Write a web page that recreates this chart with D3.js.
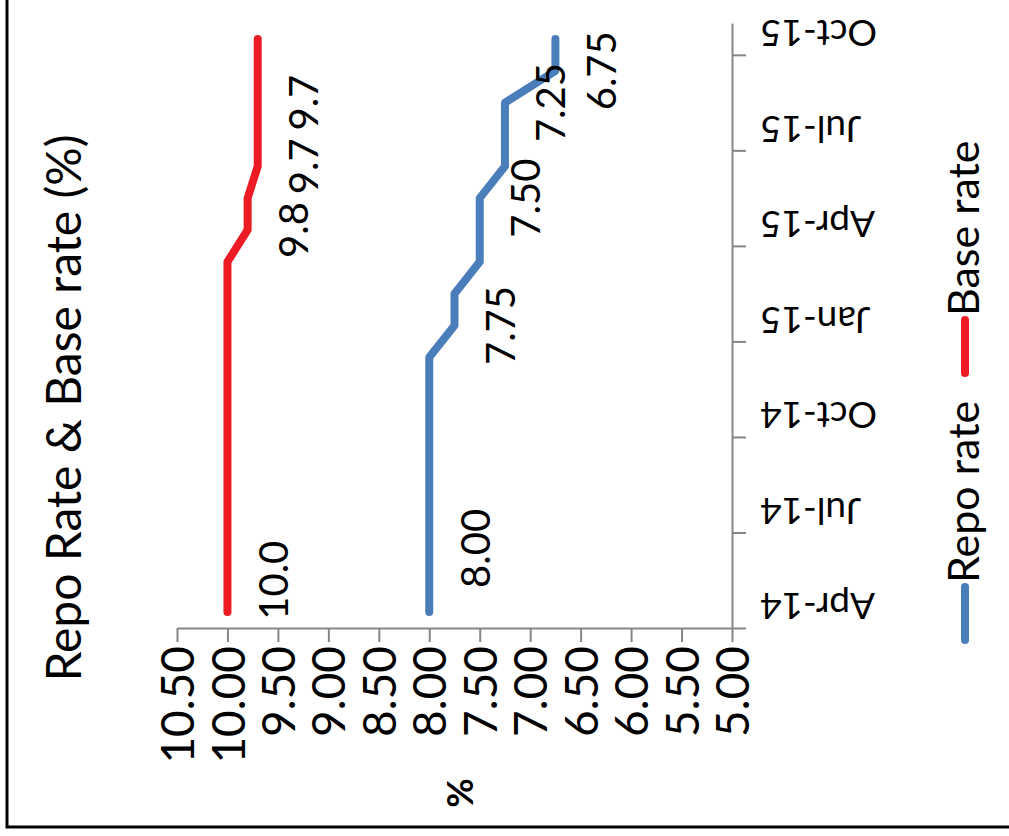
<!DOCTYPE html>
<html>
<head>
<meta charset="utf-8">
<script src="https://cdn.jsdelivr.net/npm/d3@7"></script>
<style>
  html, body { margin: 0; padding: 0; background: #fff; }
  svg { display: block; }
  text { font-family: "Lato", "Liberation Sans", sans-serif; fill: #000; }
</style>
</head>
<body>
<script>
// ---------- data ----------
const months = ["Apr-14","May-14","Jun-14","Jul-14","Aug-14","Sep-14","Oct-14","Nov-14","Dec-14",
                "Jan-15","Feb-15","Mar-15","Apr-15","May-15","Jun-15","Jul-15","Aug-15","Sep-15","Oct-15"];
const repoRate = [8.00,8.00,8.00,8.00,8.00,8.00,8.00,8.00,8.00,7.75,7.75,7.50,7.50,7.50,7.25,7.25,7.25,6.75,6.75];
const baseRate = [10.0,10.0,10.0,10.0,10.0,10.0,10.0,10.0,10.0,10.0,10.0,10.0,9.8,9.8,9.7,9.7,9.7,9.7,9.7];
const categoryTickIdx = [0,3,6,9,12,15,18];
const categoryTickLabels = ["Apr-14","Jul-14","Oct-14","Jan-15","Apr-15","Jul-15","Oct-15"];
const valueTicks = [10.5,10.0,9.5,9.0,8.5,8.0,7.5,7.0,6.5,6.0,5.5,5.0];
const repoLabelIdx = [2,9,13,16,17];
const baseLabelIdx = [1,12,14,16];
const seriesNames = ["Repo rate","Base rate"];
const titleText = "Repo Rate & Base rate (%)";
const valueAxisTitle = "%";

// ---------- layout ----------
const W = 1009, H = 836;
const svg = d3.select("body").append("svg").attr("width", W).attr("height", H);

const x = d3.scaleLinear().domain([10.5, 5.0]).range([177, 732]);
const yEdge = d3.scaleLinear().domain([0, months.length]).range([628, 23]);
const y = d3.scaleBand().domain(months).range([628, 23]);
const yc = i => y(months[i]) + y.bandwidth() / 2;

const axisColor = "#868686";
const repoColor = "#4A7EBB";
const baseColor = "#ED1C24";

// frame
svg.append("path")
  .attr("d", `M7,0 L7,827 L${W},827`)
  .attr("fill", "none").attr("stroke", "#000").attr("stroke-width", 3);

// value axis (horizontal, bottom)
const gx = svg.append("g").attr("transform", "translate(0,628)")
  .call(d3.axisBottom(x).tickValues(valueTicks).tickSize(14).tickSizeOuter(0).tickFormat(d3.format(".2f")));
gx.select(".domain").attr("stroke", axisColor).attr("stroke-width", 2);
gx.selectAll(".tick line").attr("stroke", axisColor).attr("stroke-width", 2);
gx.selectAll(".tick text")
  .attr("transform", "rotate(-90)")
  .attr("text-anchor", "end")
  .attr("x", -18).attr("y", 0).attr("dy", "0.36em")
  .style("font-size", "46px").style("font-family", "Lato, sans-serif");

// category axis (vertical, right)
const gy = svg.append("g").attr("transform", "translate(732,0)")
  .call(d3.axisRight(yEdge).tickValues(categoryTickIdx).tickSize(14).tickSizeOuter(0)
        .tickFormat((d, i) => categoryTickLabels[i]));
gy.select(".domain").attr("stroke", axisColor).attr("stroke-width", 2);
gy.selectAll(".tick line").attr("stroke", axisColor).attr("stroke-width", 2);
gy.selectAll(".tick text")
  .attr("transform", "rotate(180)")
  .attr("text-anchor", "end")
  .attr("x", -28).attr("y", y.bandwidth() / 2 + 6).attr("dy", "0.36em")
  .style("font-size", "37px").style("font-family", "Lato, sans-serif");

// lines
const line = d3.line().x(d => x(d.v)).y(d => yc(d.i));
const repoPts = repoRate.map((v, i) => ({ v, i }));
const basePts = baseRate.map((v, i) => ({ v, i }));

svg.append("path").datum(basePts).attr("d", line)
  .attr("fill", "none").attr("stroke", baseColor).attr("stroke-width", 8)
  .attr("stroke-linecap", "round").attr("stroke-linejoin", "round");
svg.append("path").datum(repoPts).attr("d", line)
  .attr("fill", "none").attr("stroke", repoColor).attr("stroke-width", 8)
  .attr("stroke-linecap", "round").attr("stroke-linejoin", "round");

// data labels
function addLabels(idx, vals, fmt) {
  svg.append("g").selectAll("text").data(idx).join("text")
    .attr("transform", i => `translate(${x(vals[i]) + 46},${yc(i)}) rotate(-90)`)
    .attr("text-anchor", "middle")
    .attr("dy", "0.36em")
    .style("font-size", "40px")
    .text(i => fmt(vals[i]));
}
addLabels(baseLabelIdx, baseRate, d3.format(".1f"));
addLabels(repoLabelIdx, repoRate, d3.format(".2f"));

// title
svg.append("text")
  .attr("transform", "translate(64,408) rotate(-90)")
  .attr("text-anchor", "middle").attr("dy", "0.36em")
  .style("font-size", "48px")
  .text(titleText);

// value axis title
svg.append("text")
  .attr("transform", "translate(460,793) rotate(-90)")
  .attr("text-anchor", "middle").attr("dy", "0.36em")
  .style("font-size", "36px").style("font-weight", "bold")
  .text(valueAxisTitle);

// legend
const legend = [
  { name: seriesNames[0], color: repoColor, y0: 640, y1: 587 },
  { name: seriesNames[1], color: baseColor, y0: 373, y1: 320 }
];
const lg = svg.append("g");
legend.forEach(l => {
  lg.append("line").attr("x1", 965).attr("x2", 965).attr("y1", l.y0).attr("y2", l.y1)
    .attr("stroke", l.color).attr("stroke-width", 8).attr("stroke-linecap", "round");
  lg.append("text")
    .attr("transform", `translate(964,${l.y1 - 4}) rotate(-90)`)
    .attr("text-anchor", "start").attr("dy", "0.36em")
    .style("font-size", "43px")
    .text(l.name);
});
</script>
</body>
</html>
